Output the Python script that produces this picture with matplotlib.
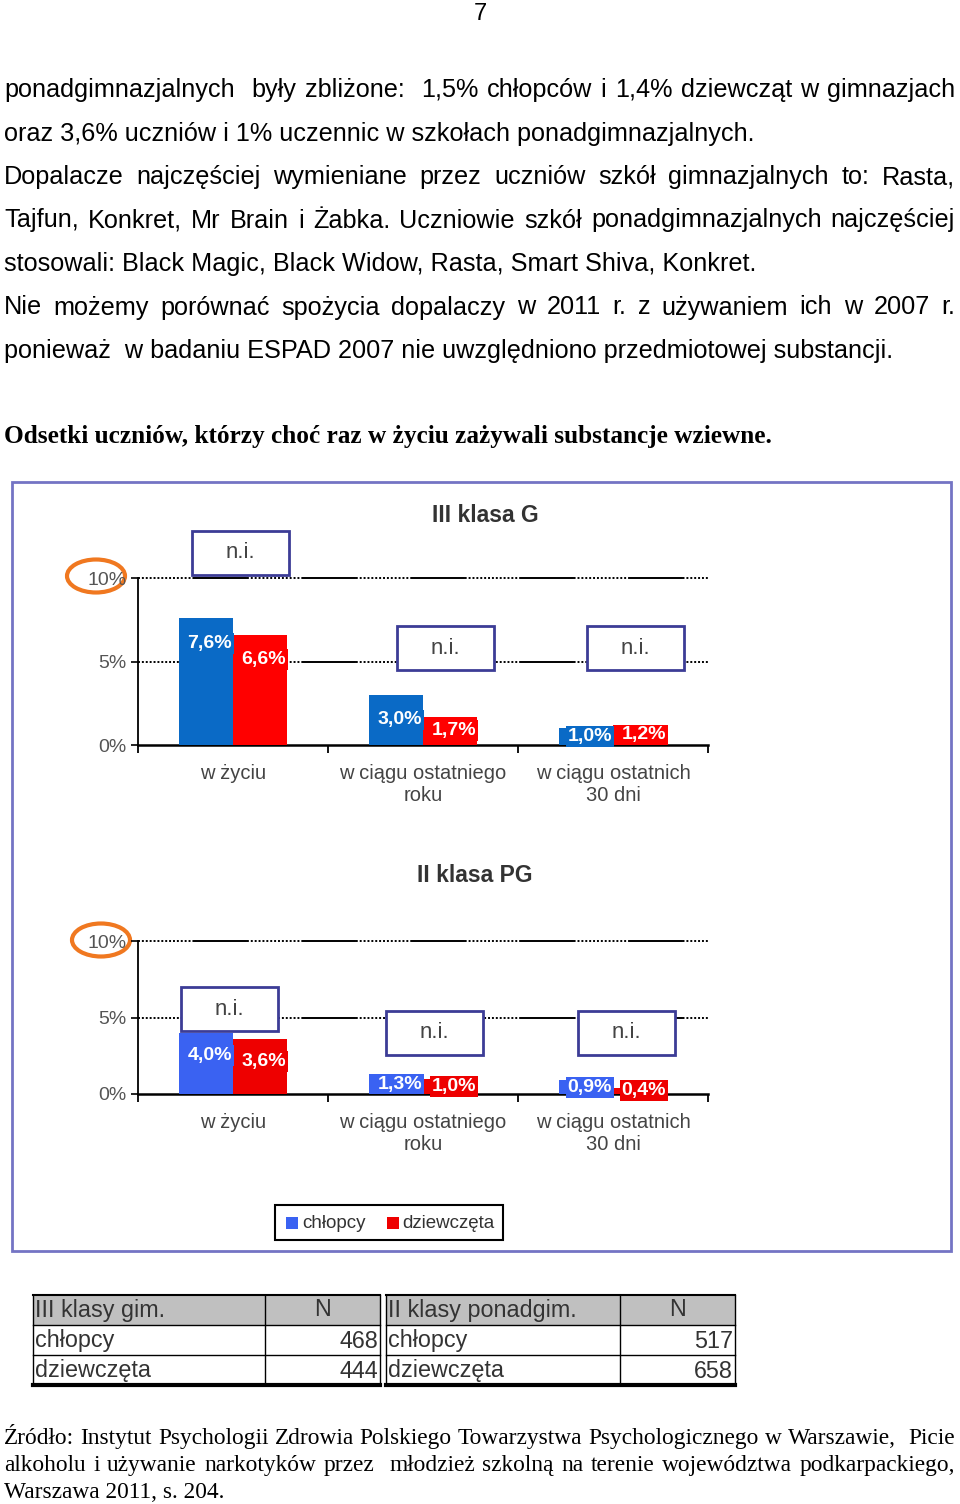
import matplotlib
matplotlib.use("Agg")
import matplotlib.pyplot as plt
from matplotlib.patches import Rectangle, Ellipse

# ---- data ----
categories = ["w życiu", "w ciągu ostatniego\nroku", "w ciągu ostatnich\n30 dni"]
series = ["chłopcy", "dziewczęta"]
g3_boys = [7.6, 3.0, 1.0]
g3_girls = [6.6, 1.7, 1.2]
pg_boys = [4.0, 1.3, 0.9]
pg_girls = [3.6, 1.0, 0.4]
yticks = [0, 5, 10]
ytick_labels = ["0%", "5%", "10%"]

table_titles = ["III klasy gim.", "II klasy ponadgim."]
table_rows = ["chłopcy", "dziewczęta"]
n_gim = [468, 444]
n_pg = [517, 658]

body_lines = [
    "ponadgimnazjalnych  były zbliżone:  1,5% chłopców i 1,4% dziewcząt w gimnazjach",
    "oraz 3,6% uczniów i 1% uczennic w szkołach ponadgimnazjalnych.",
    "Dopalacze najczęściej wymieniane przez uczniów szkół gimnazjalnych to: Rasta,",
    "Tajfun, Konkret, Mr Brain i Żabka. Uczniowie szkół ponadgimnazjalnych najczęściej",
    "stosowali: Black Magic, Black Widow, Rasta, Smart Shiva, Konkret.",
    "Nie możemy porównać spożycia dopalaczy w 2011 r. z używaniem ich w 2007 r.",
    "ponieważ  w badaniu ESPAD 2007 nie uwzględniono przedmiotowej substancji.",
]
body_justified = [True, False, True, True, False, True, False]
heading = "Odsetki uczniów, którzy choć raz w życiu zażywali substancje wziewne."
source_lines = [
    "Źródło: Instytut Psychologii Zdrowia Polskiego Towarzystwa Psychologicznego w Warszawie,  Picie",
    "alkoholu i używanie narkotyków przez  młodzież szkolną na terenie województwa podkarpackiego,",
    "Warszawa 2011, s. 204.",
]
source_justified = [True, True, False]

SANS = ["Liberation Sans", "DejaVu Sans"]
SERIF = ["Liberation Serif", "DejaVu Serif"]
W, H = 960, 1504

fig = plt.figure(figsize=(W / 100, H / 100), dpi=100)
ax0 = fig.add_axes([0, 0, 1, 1])
ax0.set_xlim(0, W)
ax0.set_ylim(H, 0)
ax0.axis("off")
renderer = fig.canvas.get_renderer()


def put_line(text, y, justify, x0=4, x1=955, **kw):
    if not justify:
        ax0.text(x0, y, text, ha="left", va="baseline", **kw)
        return
    tokens = text.split(" ")
    arts, widths = [], []
    for tok in tokens:
        t = ax0.text(0, y, tok, ha="left", va="baseline", **kw)
        arts.append(t)
        widths.append(t.get_window_extent(renderer).width if tok else 0)
    gap = (x1 - x0 - sum(widths)) / (len(tokens) - 1)
    x = x0
    for t, w in zip(arts, widths):
        t.set_x(x)
        x += w + gap


ax0.text(480, 20, "7", ha="center", va="baseline", fontsize=17, family=SANS)
for i, (line, j) in enumerate(zip(body_lines, body_justified)):
    put_line(line, 97 + i * 43.5, j, fontsize=18.2, family=SANS)
ax0.text(4, 443, heading, ha="left", va="baseline", fontsize=18.2, family=SERIF,
         fontweight="bold")
for i, (line, j) in enumerate(zip(source_lines, source_justified)):
    put_line(line, 1444 + i * 27, j, fontsize=16.8, family=SERIF)

# chart frame
ax0.add_patch(Rectangle((12, 482), 939, 769, fill=False, ec="#7474c4", lw=2))


def fmt(v):
    return f"{v:.1f}%".replace(".", ",")


def bar_chart(top, bottom, title, title_xy, boys, girls, blue, red, ni_boxes, circle):
    px_per = (bottom - top) / 10
    ax = fig.add_axes([138 / W, 1 - bottom / H, 570 / W, (bottom - top) / H])
    ax.set_facecolor("none")
    x = range(len(categories))
    w = 0.285
    bb = ax.bar([i - w / 2 for i in x], boys, w, color=blue, zorder=3)
    rb = ax.bar([i + w / 2 for i in x], girls, w, color=red, zorder=3)
    for bars, vals, col in ((bb, boys, blue), (rb, girls, red)):
        for b, v in zip(bars, vals):
            ly = v - 1.5 if v > 2.5 else v * 0.5
            ax.text(b.get_x() + b.get_width() / 2 + 0.02, ly, fmt(v), ha="center",
                    va="center", color="white", fontsize=14, fontweight="bold",
                    family=SANS, zorder=4,
                    bbox=dict(boxstyle="square,pad=0.1", fc=col, ec="none"))
    ax.set_xlim(-0.5, 2.5)
    ax.set_ylim(0, 10)
    dash = (0, (1, 1) * 14 + (28, 0.01))
    for yv in yticks[1:]:
        ax.axhline(yv, color="black", lw=1.4, ls=dash, clip_on=False, zorder=1)
    for s in ("top", "right"):
        ax.spines[s].set_visible(False)
    ax.spines["left"].set_linewidth(1.3)
    ax.spines["bottom"].set_linewidth(1.8)
    ax.set_yticks(yticks)
    ax.set_yticklabels(ytick_labels, family=SANS, fontsize=14, color="#555555")
    ax.tick_params(axis="y", length=5, width=1.2, pad=3)
    ax.set_xticks(list(x))
    ax.set_xticklabels(categories, family=SANS, fontsize=14.5, color="#444444",
                       linespacing=1.15)
    ax.set_xticks([-0.5, 0.5, 1.5, 2.5], minor=True)
    ax.tick_params(axis="x", which="major", length=0, pad=14)
    ax.tick_params(axis="x", which="minor", length=6, width=1.3, direction="out")
    for (cx, cy) in ni_boxes:
        ax.add_patch(Rectangle((cx - 0.255, cy - 22 / px_per), 0.51, 44 / px_per,
                               fc="white", ec="#3c3c96", lw=2, clip_on=False, zorder=5))
        ax.text(cx, cy, "n.i.", ha="center", va="center", fontsize=16, family=SANS,
                color="#444444", zorder=6, clip_on=False)
    ax0.text(title_xy[0], title_xy[1], title, ha="center", va="center", fontsize=16.5,
             fontweight="bold", family=SANS, color="#333333")
    ax0.add_patch(Ellipse(circle, 58, 33, fill=False, ec="#f07820", lw=3))
    return ax


bar_chart(578, 745, "III klasa G", (485, 516), g3_boys, g3_girls, "#0a6ac6", "#ff0000",
          [(0.04, 11.5), (1.12, 5.8), (2.12, 5.8)], (96, 576))
bar_chart(941, 1094, "II klasa PG", (475, 876), pg_boys, pg_girls, "#3a62f2", "#ee0000",
          [(-0.02, 5.55), (1.06, 4.0), (2.07, 4.0)], (101, 940))

# legend
ax0.add_patch(Rectangle((275, 1205), 228, 35, fill=False, ec="black", lw=1.5))
for (sx, tx, col, name) in ((286, 302, "#3a62f2", series[0]), (387, 402, "#ee0000", series[1])):
    ax0.add_patch(Rectangle((sx, 1217), 12, 12, fc=col, ec="none"))
    ax0.text(tx, 1223, name, ha="left", va="center", fontsize=13.5, family=SANS,
             color="#333333")

# tables
for (x0, xs, x1), title, ns in (((33, 265, 380), table_titles[0], n_gim),
                                 ((386, 620, 735), table_titles[1], n_pg)):
    ax0.add_patch(Rectangle((x0, 1295), x1 - x0, 30, fc="#c0c0c0", ec="none"))
    ax0.plot([x0, x1], [1295, 1295], color="black", lw=1.5)
    ax0.plot([x0, x1], [1325, 1325], color="black", lw=1)
    ax0.plot([x0, x1], [1355, 1355], color="black", lw=1)
    ax0.plot([x0, x1], [1385, 1385], color="black", lw=3)
    for xv in (x0, xs, x1):
        ax0.plot([xv, xv], [1295, 1385], color="black", lw=1)
    tk = dict(va="center", fontsize=16.8, family=SANS, color="#333333")
    ax0.text(x0 + 2, 1311, title, ha="left", **tk)
    ax0.text((xs + x1) / 2, 1310, "N", ha="center", **tk)
    for r, (lab, n) in enumerate(zip(table_rows, ns)):
        ax0.text(x0 + 2, 1341 + r * 30, lab, ha="left", **tk)
        ax0.text(x1 - 2, 1341 + r * 30, str(n), ha="right", **tk)

fig.savefig("out.png", dpi=100)
